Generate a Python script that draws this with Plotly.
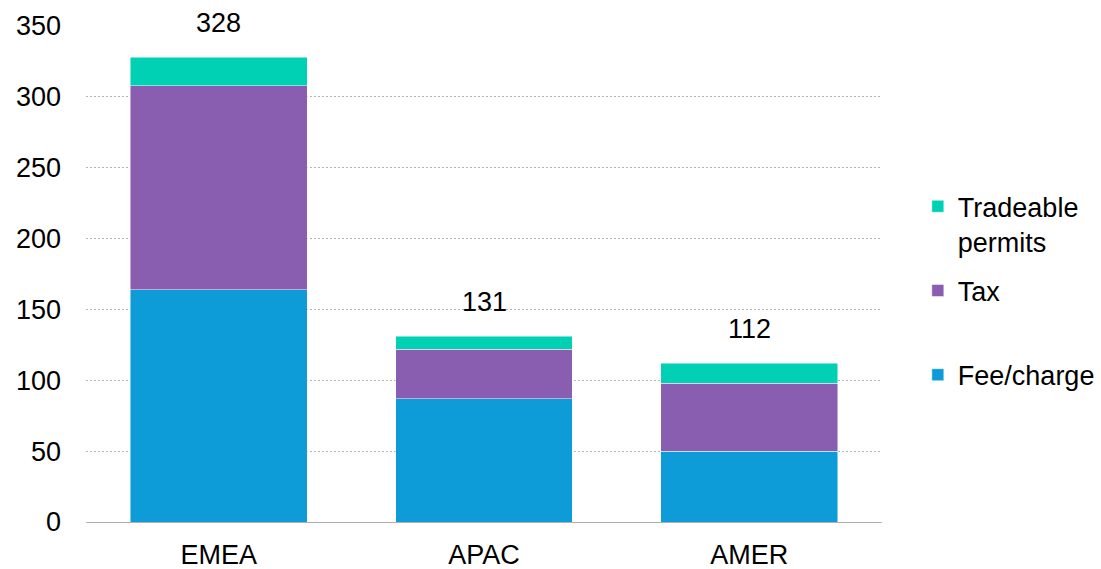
import plotly.graph_objects as go

regions = ["EMEA", "APAC", "AMER"]
fee_charge = [164, 87, 50]
tax = [144, 35, 48]
tradeable_permits = [20, 9, 14]
totals = [328, 131, 112]
y_ticks = [0, 50, 100, 150, 200, 250, 300, 350]

font_family = "Liberation Sans, Arial, sans-serif"

series = [
    ("Fee/charge<br> ", fee_charge, "#0E9CD8", 3),
    ("Tax<br> ", tax, "#895DB0", 2),
    ("Tradeable<br>permits", tradeable_permits, "#00D1B4", 1),
]

fig = go.Figure()
for i, (name, vals, color, rank) in enumerate(series):
    fig.add_trace(go.Bar(
        x=regions, y=vals, name=name,
        marker=dict(color=color, line=dict(color="rgba(255,255,255,0.6)", width=0.8)),
        legendgroup=str(i), legendrank=rank,
    ))

# Total labels above each stack
for r, t in zip(regions, totals):
    fig.add_annotation(x=r, y=t, text=str(t), showarrow=False,
                       yanchor="bottom", yshift=17,
                       font=dict(size=27, color="#000000", family=font_family))

fig.update_layout(
    barmode="stack",
    bargap=0.333,
    width=1101, height=569,
    margin=dict(l=86, r=219, t=26, b=47, autoexpand=False),
    plot_bgcolor="white", paper_bgcolor="white",
    font=dict(family=font_family, size=27, color="#000000"),
    legend=dict(
        traceorder="grouped",
        tracegroupgap=11,
        valign="top",
        x=1.045, xanchor="left",
        y=0.685, yanchor="top",
        font=dict(size=27, color="#000000"),
        itemwidth=30,
        bgcolor="rgba(0,0,0,0)",
    ),
    showlegend=True,
)
fig.update_yaxes(
    range=[0, 350], tickvals=y_ticks, automargin=False,
    showgrid=True, gridcolor="#B4B4B4", griddash="2px,2px", gridwidth=1,
    zeroline=False, showline=False, ticks="",
    ticklabelstandoff=24,
    tickfont=dict(size=27, color="#000000"),
)
fig.update_xaxes(
    showline=True, linecolor="#B0B0B0", linewidth=1.3, automargin=False,
    ticks="", ticklabelstandoff=8,
    tickfont=dict(size=27, color="#000000"),
)

fig.write_html("out.html")
